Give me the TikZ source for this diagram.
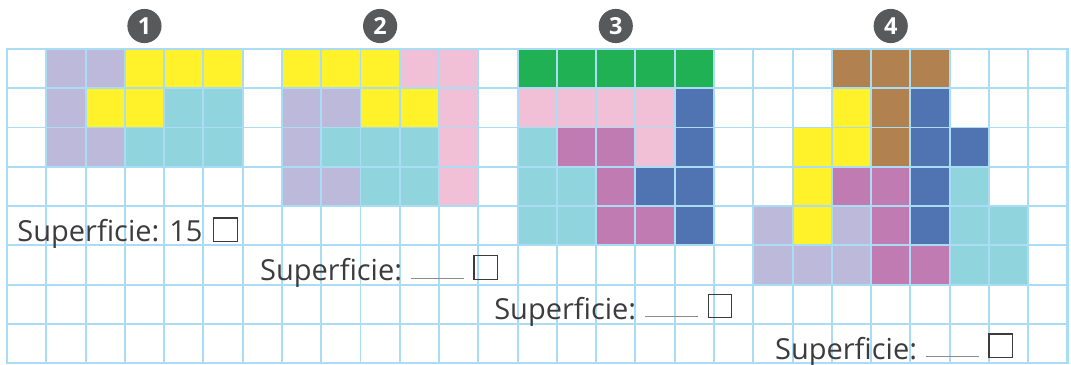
\documentclass[tikz,border=0pt]{standalone}
\usepackage{fontspec}
\usepackage{xcolor}
\setmainfont{Open Sans}
\usetikzlibrary{positioning,calc}
\definecolor{gridc}{RGB}{170,220,243}
\definecolor{lav}{RGB}{189,185,218}
\definecolor{yel}{RGB}{255,241,42}
\definecolor{cya}{RGB}{144,213,221}
\definecolor{pnk}{RGB}{241,191,214}
\definecolor{grn}{RGB}{31,177,83}
\definecolor{blu}{RGB}{80,115,178}
\definecolor{mag}{RGB}{192,123,179}
\definecolor{brn}{RGB}{178,129,80}
\definecolor{ink}{RGB}{60,60,62}
\definecolor{badge}{RGB}{88,89,91}

\tikzset{
  numbadge/.style={circle,fill=badge,text=white,minimum size=0.87cm,inner sep=0pt,
    font=\fontsize{17}{17}\selectfont\bfseries},
  sflabel/.style={anchor=base west,inner sep=0pt,text=ink,font=\fontsize{21}{24}\selectfont},
  sqbox/.style={draw=ink,line width=0.9pt,minimum size=0.6cm,inner sep=0pt,anchor=south west},
  blank/.style={draw=black!45,line width=0.7pt}
}

\begin{document}
\begin{tikzpicture}
    \useasboundingbox (-0.178,1.247) rectangle (27.09,-8.03);
    % coloured cells: x/row/width/colour
    \foreach \x/\r/\w/\col in {
      1/0/2/lav, 3/0/3/yel, 1/1/1/lav, 2/1/2/yel, 4/1/2/cya, 1/2/2/lav, 3/2/3/cya,
      7/0/3/yel, 10/0/2/pnk, 7/1/2/lav, 9/1/2/yel, 11/1/1/pnk, 7/2/1/lav, 8/2/3/cya,
      11/2/1/pnk, 7/3/2/lav, 9/3/2/cya, 11/3/1/pnk,
      13/0/5/grn, 13/1/4/pnk, 17/1/1/blu, 13/2/1/cya, 14/2/2/mag, 16/2/1/pnk, 17/2/1/blu,
      13/3/2/cya, 15/3/1/mag, 16/3/2/blu, 13/4/2/cya, 15/4/2/mag, 17/4/1/blu,
      21/0/3/brn, 21/1/1/yel, 22/1/1/brn, 23/1/1/blu, 20/2/2/yel, 22/2/1/brn, 23/2/2/blu,
      20/3/1/yel, 21/3/2/mag, 23/3/1/blu, 24/3/1/cya,
      19/4/1/lav, 20/4/1/yel, 21/4/1/lav, 22/4/1/mag, 23/4/1/blu, 24/4/2/cya,
      19/5/3/lav, 22/5/2/mag, 24/5/2/cya}{
      \fill[\col] (\x,-\r) rectangle ({\x+\w},{-\r-1});
    }
    \draw[gridc,line width=1.4pt] (0,0) grid (27,-8);
    \draw[gridc,line width=1.8pt] (0,0) rectangle (27,-8);

    % numbers above the shapes
    \foreach \n/\x in {1/3.5, 2/9.5, 3/15.5, 4/22.5}{
      \node[numbadge] (num\n) at (\x,0.585) {\n};
    }

    % area labels
    \node[sflabel] (area1) at (0.26,-4.906) {Superficie: 15};
    \node[sqbox] (sq1) at (5.25,-4.92) {};
    \foreach \n/\x/\y in {2/6.44/-5.906, 3/12.4/-6.89, 4/19.55/-7.9}{
      \node[sflabel] (area\n) at (\x,\y) {Superficie:};
      \coordinate (blankA\n) at ([xshift=0.22cm,yshift=0.07cm]area\n.base east);
      \coordinate (blankB\n) at ([xshift=1.35cm]blankA\n);
      \draw[blank] (blankA\n) -- (blankB\n);
      \node[sqbox] (sq\n) at ([xshift=0.24cm,yshift=-0.04cm]blankB\n) {};
    }
  \end{tikzpicture}
\end{document}
